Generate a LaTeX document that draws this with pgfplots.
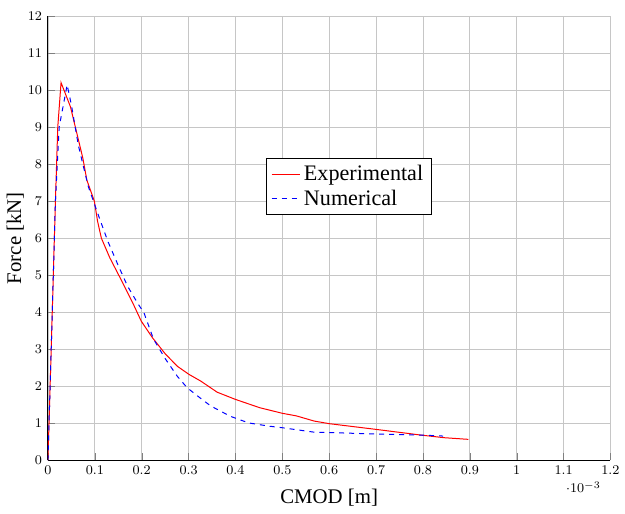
\documentclass[border=0pt]{standalone}
\usepackage{pgfplots}
\pgfplotsset{compat=1.18}
\usepackage{fontspec}
\setmainfont{Liberation Serif}

\begin{document}
\begin{tikzpicture}
\begin{axis}[
  scale only axis,
  width=338pt, height=267pt,
  xmin=0, xmax=1.2e-3,
  ymin=0, ymax=12,
  xtick distance=1e-4, ytick distance=1,
  axis x line*=bottom, axis y line*=left,
  axis line style={-, black, line width=0.6pt},
  grid=major, grid style={gray!45, line width=0.5pt},
  xlabel={CMOD [m]}, ylabel={Force [kN]},
  xlabel shift=2pt, ylabel shift=-4.5pt,
  label style={font=\fontsize{12.5}{15}\selectfont},
  tick label style={font=\fontsize{8.5}{10}\selectfont},
  every x tick scale label/.style={at={(rel axis cs:0.952,0)}, anchor=center,
                                   yshift=-16.2pt, inner sep=0pt},
  legend style={font=\fontsize{13.3}{15.5}\selectfont, at={(0.535,0.616)}, anchor=center,
                draw=black, cells={anchor=west}},
]
\addplot[red, line width=0.6pt] coordinates {
 (0,0) (0.007e-3,3.0) (0.016e-3,7.0) (0.021e-3,9.0) (0.028e-3,10.2)
 (0.048e-3,9.55) (0.0745e-3,8.16) (0.083e-3,7.57) (0.099e-3,7.0)
 (0.106e-3,6.45) (0.114e-3,6.0) (0.132e-3,5.47) (0.156e-3,4.88) (0.181e-3,4.25)
 (0.199e-3,3.76) (0.223e-3,3.31) (0.250e-3,2.88) (0.276e-3,2.54)
 (0.301e-3,2.32) (0.326e-3,2.14) (0.361e-3,1.84) (0.400e-3,1.645)
 (0.452e-3,1.42) (0.500e-3,1.27) (0.530e-3,1.20) (0.568e-3,1.06)
 (0.600e-3,0.99) (0.700e-3,0.835) (0.800e-3,0.675) (0.846e-3,0.61)
 (0.897e-3,0.566)};
\addlegendentry{Experimental}
\addplot[blue, dashed, line width=0.6pt] coordinates {
 (0,0) (0.007e-3,3.0) (0.016e-3,7.0) (0.024e-3,9.0) (0.041e-3,10.14)
 (0.050e-3,9.6) (0.065e-3,8.5) (0.086e-3,7.4) (0.097e-3,7.0)
 (0.111e-3,6.5) (0.128e-3,5.91) (0.149e-3,5.29) (0.170e-3,4.7)
 (0.191e-3,4.25) (0.205e-3,3.98) (0.225e-3,3.28) (0.250e-3,2.75)
 (0.276e-3,2.27) (0.297e-3,1.96) (0.319e-3,1.74) (0.347e-3,1.47)
 (0.389e-3,1.19) (0.428e-3,1.01) (0.473e-3,0.92) (0.500e-3,0.88)
 (0.568e-3,0.76) (0.600e-3,0.75) (0.700e-3,0.71) (0.800e-3,0.68)
 (0.843e-3,0.655)};
\addlegendentry{Numerical}
\coordinate (ll) at (rel axis cs:0,0);
\coordinate (ur) at (rel axis cs:1,1);
\end{axis}
\path ([shift={(-28.8pt,-31.8pt)}]ll) rectangle ([shift={(7.8pt,9.6pt)}]ur);
\end{tikzpicture}
\end{document}
